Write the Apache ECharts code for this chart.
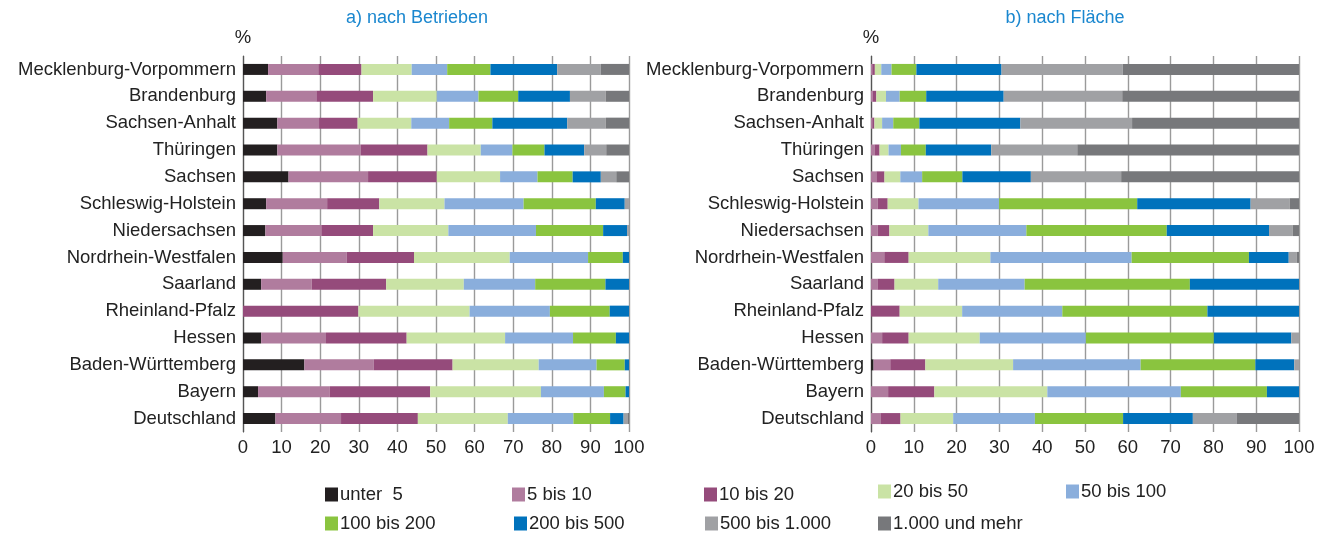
<!DOCTYPE html>
<html><head><meta charset="utf-8">
<script src="https://cdn.jsdelivr.net/npm/echarts@6/dist/echarts.min.js"></script>
<style>html,body{margin:0;padding:0;background:#fff}#c{width:1323px;height:534px}</style>
</head><body><div id="c"></div>
<script>
const regions = ["Mecklenburg-Vorpommern","Brandenburg","Sachsen-Anhalt","Thüringen","Sachsen","Schleswig-Holstein","Niedersachsen","Nordrhein-Westfalen","Saarland","Rheinland-Pfalz","Hessen","Baden-Württemberg","Bayern","Deutschland"];
const classes = ["unter  5","5 bis 10","10 bis 20","20 bis 50","50 bis 100","100 bis 200","200 bis 500","500 bis 1.000","1.000 und mehr"];
const xTicks = [0,10,20,30,40,50,60,70,80,90,100];

// a) nach Betrieben (% per region, one array per size class)
const betr_unter5   = [6.5, 6.0, 8.9, 8.9, 11.8, 6.0, 5.8, 10.3, 4.7, 0, 4.7, 15.9, 3.9, 8.4];
const betr_5_10     = [13.0,13.0,10.8,21.6,20.6,15.8,14.5,16.6,13.1,0,16.8,18.0,18.6,17.0];
const betr_10_20    = [11.2,14.7,10.0,17.3,17.8,13.5,13.4,17.4,19.3,29.9,20.9,20.4,26.0,19.9];
const betr_20_50    = [13.0,16.5,13.9,13.8,16.4,16.9,19.5,24.8,20.1,28.8,25.5,22.3,28.7,23.3];
const betr_50_100   = [9.2,10.8,9.8,8.2,9.7,20.5,22.7,20.3,18.5,20.8,17.6,15.0,16.3,17.0];
const betr_100_200  = [11.2,10.3,11.2,8.3,9.1,18.7,17.4,9.0,18.2,15.5,11.1,7.3,5.6,9.5];
const betr_200_500  = [17.3,13.4,19.4,10.3,7.3,7.5,6.2,1.6,6.1,5.0,3.4,1.1,0.9,3.5];
const betr_500_1000 = [11.3,9.3,10.0,5.7,4.0,1.0,0.5,0,0,0,0,0,0,1.0];
const betr_1000     = [7.3,6.0,6.0,5.9,3.3,0.1,0,0,0,0,0,0,0,0.4];

// b) nach Fläche
const fl_unter5   = [0,0,0,0,0,0,0,0,0,0,0,0.6,0,0];
const fl_5_10     = [0.3,0.4,0.3,0.8,1.25,1.6,1.6,3.1,1.5,0,2.6,3.9,4.0,2.2];
const fl_10_20    = [0.6,0.85,0.5,1.2,1.9,2.3,2.7,5.7,4.0,6.7,6.2,8.2,10.8,4.7];
const fl_20_50    = [1.5,2.25,1.8,2.1,3.7,7.2,9.1,19.1,10.2,14.6,16.6,20.5,26.4,12.3];
const fl_50_100   = [2.4,3.2,2.6,2.9,5.1,18.8,22.9,33.0,20.2,23.4,24.8,29.8,31.2,19.1];
const fl_100_200  = [5.8,6.2,6.1,5.8,9.4,32.3,32.8,27.4,38.6,33.9,29.9,26.8,20.1,20.6];
const fl_200_500  = [19.9,18.1,23.6,15.3,16.0,26.5,23.9,9.3,25.5,21.4,18.1,9.1,7.5,16.3];
const fl_500_1000 = [28.3,27.7,26.1,20.1,21.1,9.1,5.5,1.9,0,0,1.9,1.1,0,10.3];
const fl_1000     = [41.2,41.3,39.1,51.8,41.6,2.2,1.5,0.5,0,0,0,0,0,14.5];

const colors = ["#231f20","#b07c9e","#954b7b","#cae3a5","#8aaedc","#8ac43f","#0072bc","#a0a1a4","#77787b"];
const betr = [betr_unter5,betr_5_10,betr_10_20,betr_20_50,betr_50_100,betr_100_200,betr_200_500,betr_500_1000,betr_1000];
const fl = [fl_unter5,fl_5_10,fl_10_20,fl_20_50,fl_50_100,fl_100_200,fl_200_500,fl_500_1000,fl_1000];

const font = '"Liberation Sans", Arial, Helvetica, sans-serif';
const FS = 18.5;
const grids = [
  {left:243, right:694, top:56, bottom:102},
  {left:871, right:24, top:56, bottom:102}
];
const xAxes = grids.map((g,i)=>({
  type:'value', gridIndex:i, min:0, max:100, interval:10,
  axisLine:{show:false}, axisTick:{show:false},
  axisLabel:{fontFamily:font, fontSize:FS, color:'#222', margin:6, formatter:v=>xTicks.includes(v)?String(v):''},
  splitLine:{show:true, lineStyle:{color:'#9a9a9a', width:1.4}}
}));
const yAxes = grids.map((g,i)=>({
  type:'category', gridIndex:i, data:regions, inverse:true,
  axisLine:{show:true, lineStyle:{color:'#555', width:1.2}}, axisTick:{show:false},
  axisLabel:{fontFamily:font, fontSize:FS, color:'#222', margin:7}
}));
const series = [];
[betr, fl].forEach((set, gi)=>{
  set.forEach((arr, ci)=>{
    series.push({
      type:'bar', name:classes[ci], xAxisIndex:gi, yAxisIndex:gi, stack:'s'+gi,
      data:arr, barWidth:11, itemStyle:{color:colors[ci]}, silent:true
    });
  });
});
const legendPos = [[320,480],[507,480],[699,480],[873,477],[1061,477],[320,509],[509,509],[700,509],[873,509]];
const legends = classes.map((c,i)=>({
  data:[c], left:legendPos[i][0], top:legendPos[i][1], icon:'rect', itemWidth:13, itemHeight:14, itemGap:5,
  textStyle:{fontFamily:font, fontSize:FS, color:'#222', padding:[0,0,0,-3]}, selectedMode:false
}));
const chart = echarts.init(document.getElementById('c'), null, {renderer:'canvas'});
chart.setOption({
  animation:false,
  color:colors,
  grid:grids, xAxis:xAxes, yAxis:yAxes, series, legend:legends,
  graphic:[
    {type:'text', x:417, y:18, style:{text:'a) nach Betrieben', fill:'#1a87cf', font:'18px '+font, textAlign:'center', textVerticalAlign:'middle'}},
    {type:'text', x:1065, y:18, style:{text:'b) nach Fläche', fill:'#1a87cf', font:'18px '+font, textAlign:'center', textVerticalAlign:'middle'}},
    {type:'text', x:243, y:38, style:{text:'%', fill:'#222', font:FS+'px '+font, textAlign:'center', textVerticalAlign:'middle'}},
    {type:'text', x:871, y:38, style:{text:'%', fill:'#222', font:FS+'px '+font, textAlign:'center', textVerticalAlign:'middle'}}
  ]
});
</script></body></html>
